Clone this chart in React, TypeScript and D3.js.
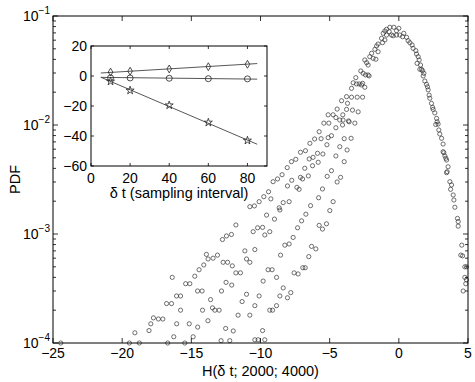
import React from "react";
import * as d3 from "d3";

// ---------- main panel data: [H(δt;2000;4000), PDF] ----------
const peakPoints: [number, number][] = [
  [-1.01,0.0728],[-0.89,0.0755],[-0.65,0.0788],[-0.36,0.0788],[0,0.0771],[-0.17,0.0733],[-0.70,0.0718],
  [-1.13,0.0694],[-0.89,0.0669],[-0.53,0.0669],[-0.41,0.0659],[-0.17,0.0669],[0.07,0.0669],[0.27,0.0646],
  [0.36,0.0694],[0.56,0.0638],[0.67,0.0593],[-1.25,0.0624],[-1.01,0.0603],[-1.18,0.0569],[-1.50,0.0553],
  [-1.61,0.0531],[-1.73,0.0495],[-1.50,0.0470],[-1.97,0.0455],[-2.10,0.0423],[-1.86,0.0409],[-1.66,0.0401],
  [-2.46,0.0395],[-2.33,0.0373],[-2.22,0.0355],[-2.75,0.0313],[-2.58,0.0298],[-2.41,0.0288],[-2.22,0.0288],
  [-3.11,0.0272],[-3.30,0.0244],[-3.06,0.0238],[-2.87,0.0238],[-2.62,0.0241],[-2.46,0.0222],[-3.42,0.0217],
  [-2.15,0.0282],[-2.70,0.0233]
];

const leftTailUpper: [number, number][] = [
  [-4.14,0.0167],[-3.78,0.0182],[-3.42,0.0180],[-3.01,0.0180],[-2.62,0.0180],[-3.71,0.0158],[-4.46,0.0140],
  [-3.78,0.0139],[-3.35,0.0137],[-2.94,0.0132],[-4.75,0.0124],[-5.11,0.0124],[-4.05,0.0124],[-4.55,0.0117],
  [-4.27,0.0111],[-4.03,0.0111],[-3.64,0.0109],[-3.59,0.0107],[-3.18,0.0104],[-5.42,0.0104],[-5.06,0.0104],
  [-4.55,0.00944],[-4.07,0.0100],
  [-5.76,0.00868],[-6.09,0.00744],[-6.43,0.00679],[-6.75,0.00581],[-7.11,0.00562],[-7.45,0.00484],
  [-7.76,0.00461],[-8.07,0.00406],[-8.44,0.0035],[-8.77,0.0032],[-9.09,0.00302],[-9.42,0.00244],
  [-9.76,0.0022],[-10.10,0.00198],[-10.44,0.00181],[-10.77,0.00178],
  [-4.87,0.00798],[-5.11,0.00765],[-5.62,0.00749],[-3.95,0.00749],[-3.45,0.00755],[-5.20,0.00659],
  [-4.27,0.00632],[-3.74,0.0059],[-5.88,0.0055],[-5.49,0.00542],[-6.48,0.00488],[-6.20,0.00505],
  [-5.83,0.00455],[-4.55,0.0052],[-3.95,0.00461],[-6.80,0.00401],[-6.24,0.00423],[-4.87,0.00381],
  [-5.18,0.00338],[-4.21,0.00331],[-7.11,0.00331],[-6.96,0.0032],[-6.54,0.00341],[-7.74,0.00311],
  [-4.46,0.003],[-8.05,0.00276],[-7.37,0.00268],[-7.21,0.00257],[-5.52,0.00259],[-9.25,0.0021],
  [-8.36,0.00194],[-7.93,0.00198],[-8.65,0.00174],[-8.60,0.00166],[-5.80,0.00215],[-6.38,0.00182],
  [-4.75,0.00198],[-9.56,0.00149],[-8.99,0.00137],[-6.72,0.00152],[-4.99,0.00164],[-7.03,0.00132],
  [-5.76,0.0012],[-5.52,0.00111],[-5.23,0.00124],[-10.53,0.00105],[-10.21,0.00114],[-9.85,0.00115],
  [-9.33,0.00105],[-7.32,0.00114],[-11.78,0.00121]
];

const leftTailLower: [number, number][] = [
  [-9.69,9.8e-4],[-7.64,9.3e-4],[-8.24,7.9e-4],[-7.93,8.1e-4],[-6.31,7.7e-4],[-6.00,7.3e-4],[-10.41,7.2e-4],
  [-8.55,6.4e-4],[-6.51,6.2e-4],[-10.77,5.5e-4],[-9.45,4.7e-4],[-9.16,4.7e-4],[-7.57,4.4e-4],[-7.28,4.3e-4],
  [-6.94,4.9e-4],[-6.77,4.9e-4],[-9.81,3.7e-4],[-8.84,4.0e-4],[-8.36,3.2e-4],[-7.81,2.9e-4],[-8.05,2.6e-4],
  [-8.60,2.7e-4],[-10.10,2.7e-4],[-10.41,2.2e-4],[-8.84,2.2e-4],[-9.33,2.0e-4],[-9.13,2.0e-4],[-10.77,1.8e-4],
  [-9.85,1.3e-4],[-10.41,1.07e-4],[-10.17,1.07e-4],[-9.69,1.07e-4],
  [-12.46,9.6e-4],[-12.10,9.9e-4],[-12.75,8.9e-4],[-13.91,6.5e-4],[-13.79,5.9e-4],[-13.43,6.0e-4],
  [-13.11,6.4e-4],[-11.13,7.0e-4],[-11.01,5.9e-4],[-14.10,5.2e-4],[-14.44,4.7e-4],[-12.70,5.5e-4],
  [-12.38,5.5e-4],[-12.04,5.1e-4],[-11.78,4.4e-4],[-11.45,4.4e-4],[-14.75,4.1e-4],[-16.38,4.0e-4],
  [-15.41,3.5e-4],[-15.11,3.5e-4],[-12.49,3.6e-4],[-12.08,3.4e-4],[-14.55,3.0e-4],[-14.22,3.0e-4],
  [-16.07,2.7e-4],[-15.78,2.7e-4],[-12.82,3.0e-4],[-11.01,2.8e-4],[-16.79,2.3e-4],[-16.43,2.3e-4],
  [-13.61,2.5e-4],[-11.33,2.4e-4],[-15.78,2.0e-4],[-14.19,2.0e-4],[-13.47,2.1e-4],[-13.30,2.0e-4],
  [-12.99,2.0e-4],[-11.62,1.8e-4],[-17.74,1.7e-4],[-17.38,1.66e-4],[-17.06,1.66e-4],[-13.80,1.6e-4],
  [-17.93,1.5e-4],[-18.06,1.3e-4],[-16.06,1.5e-4],[-15.15,1.5e-4],[-14.54,1.4e-4],[-12.52,1.36e-4],
  [-11.97,1.29e-4],[-19.08,1.24e-4],[-16.27,1.14e-4],[-14.87,1.14e-4],
  [-24.44,1e-4],[-19.48,1e-4],[-18.76,1e-4],[-16.71,1e-4],[-15.47,1e-4],[-12.85,1.05e-4],[-12.22,1.05e-4]
];

const rightTail: [number, number][] = [
  [0.80,0.0569],[0.96,0.0542],[1.03,0.0505],[1.23,0.0481],[1.28,0.0448],[1.40,0.0423],[1.47,0.0395],
  [1.32,0.0368],[1.57,0.0355],[1.52,0.0324],[1.64,0.0324],[1.71,0.0315],[1.81,0.0298],[1.76,0.0282],
  [1.88,0.0253],[2.00,0.0236],[2.07,0.0224],[2.12,0.0210],[2.19,0.0188],[2.24,0.0176],[2.36,0.0158],
  [2.44,0.0145],[2.48,0.0139],[2.60,0.0129],[2.73,0.0115],[2.77,0.0107],[2.84,0.0102],[2.67,0.0101],
  [2.89,0.0090],[2.96,0.00827],[3.09,0.00755],[3.20,0.00669],[3.20,0.00569],[3.25,0.00557],[3.33,0.0052],
  [3.40,0.00495],[3.45,0.00477],[3.56,0.00414],[3.49,0.00373],[3.45,0.00365],[3.69,0.00302],[3.81,0.00282],
  [3.74,0.00257],[3.93,0.00228],[3.98,0.00205],[4.05,0.00176],[4.24,0.00139],[4.29,0.0013],[4.29,0.00118],
  [4.55,7.9e-4],[4.48,6.4e-4],[4.61,6.3e-4],[4.77,5.0e-4],[4.89,5.0e-4],[4.77,4.0e-4],[4.89,3.8e-4],
  [4.84,3.5e-4],[4.65,3.0e-4]
];

const xTicksMain = [-25, -20, -15, -10, -5, 0, 5];
const yDecades = [-4, -3, -2, -1];

// ---------- inset data: slope vs sampling interval ----------
const insetDt = [10, 20, 40, 60, 80];
const diamondVals = [2.6, 3.2, 4.7, 6.2, 7.8];
const circleVals = [-1.2, -1.3, -1.5, -1.8, -1.9];
const starVals = [-3.6, -9.6, -19.5, -31.0, -43.0];
const fitRange = [5, 85];
const diamondFit = [2.0, 8.3];
const circleFit = [-0.9, -2.1];
const starFit = [-0.8, -45.5];
const insetXTicks = [0, 20, 40, 60, 80];
const insetYTicks = [-60, -40, -20, 0, 20];

const FONT = "'Liberation Sans', Arial, Helvetica, sans-serif";
const minus = (v: number) => (v < 0 ? "\u2212" + Math.abs(v) : String(v));

export default function App() {
  const W = 475, H = 382;
  const m = { l: 53, r: 468, t: 16, b: 343 };
  const x = d3.scaleLinear().domain([-25, 5]).range([m.l, m.r]);
  const y = d3.scaleLog().domain([1e-4, 1e-1]).range([m.b, m.t]);

  const ins = { l: 91, r: 267, t: 46, b: 166 };
  const ix = d3.scaleLinear().domain([0, 90]).range([ins.l, ins.r]);
  const iy = d3.scaleLinear().domain([-60, 20]).range([ins.b, ins.t]);

  const allPts = [...peakPoints, ...leftTailUpper, ...leftTailLower, ...rightTail];

  const minorTicks: number[] = [];
  for (const d of [-4, -3, -2]) for (let k = 2; k <= 9; k++) minorTicks.push(k * Math.pow(10, d));

  const diamond = d3.symbol().type(d3.symbolDiamond).size(18)()!;
  const star = d3.symbol().type(d3.symbolStar).size(20)()!;
  const line = d3.line<[number, number]>().x(d => ix(d[0])).y(d => iy(d[1]));

  const fits = [diamondFit, circleFit, starFit];
  const stroke = "#000";

  return (
    <svg width={W} height={H} style={{ position: "absolute", left: 0, top: 0, background: "#fff" }} fontFamily={FONT}>
      <rect x={0} y={0} width={W} height={H} fill="#fff" />
      {/* main points */}
      <g fill="none" stroke="#333" strokeWidth={0.7}>
        {allPts.map((p, i) => (
          <circle key={i} cx={x(p[0])} cy={y(p[1])} r={2.1} />
        ))}
      </g>
      {/* main box */}
      <rect x={m.l} y={m.t} width={m.r - m.l} height={m.b - m.t} fill="none" stroke={stroke} strokeWidth={1} />
      {/* x ticks */}
      <g stroke={stroke} strokeWidth={0.8}>
        {xTicksMain.map(t => (
          <g key={t}>
            <line x1={x(t)} x2={x(t)} y1={m.b} y2={m.b - 5} />
            <line x1={x(t)} x2={x(t)} y1={m.t} y2={m.t + 5} />
          </g>
        ))}
        {yDecades.map(dd => (
          <g key={dd}>
            <line x1={m.l} x2={m.l + 5} y1={y(Math.pow(10, dd))} y2={y(Math.pow(10, dd))} />
            <line x1={m.r} x2={m.r - 5} y1={y(Math.pow(10, dd))} y2={y(Math.pow(10, dd))} />
          </g>
        ))}
        {minorTicks.map((t, i) => (
          <g key={i}>
            <line x1={m.l} x2={m.l + 3} y1={y(t)} y2={y(t)} />
            <line x1={m.r} x2={m.r - 3} y1={y(t)} y2={y(t)} />
          </g>
        ))}
      </g>
      <g fontSize={14} fill="#000" textAnchor="middle">
        {xTicksMain.map(t => (
          <text key={t} x={x(t)} y={358}>{minus(t)}</text>
        ))}
      </g>
      <g fill="#000" textAnchor="end">
        {yDecades.map(dd => (
          <text key={dd} x={50} y={y(Math.pow(10, dd)) + 5} fontSize={14}>
            10<tspan fontSize={10} dy={-7}>{minus(dd)}</tspan>
          </text>
        ))}
      </g>
      <text x={(m.l + m.r) / 2} y={376} fontSize={14.5} textAnchor="middle" fill="#000">
        H(δ t; 2000; 4000)
      </text>
      <text transform={`translate(20,${(m.t + m.b) / 2}) rotate(-90)`} fontSize={14.5} textAnchor="middle" fill="#000">
        PDF
      </text>

      {/* inset */}
      <rect x={ins.l} y={ins.t} width={ins.r - ins.l} height={ins.b - ins.t} fill="#fff" stroke={stroke} strokeWidth={1} />
      <g stroke={stroke} strokeWidth={0.8}>
        {insetXTicks.map(t => (
          <g key={t}>
            <line x1={ix(t)} x2={ix(t)} y1={ins.b} y2={ins.b - 3} />
            <line x1={ix(t)} x2={ix(t)} y1={ins.t} y2={ins.t + 3} />
          </g>
        ))}
        {insetYTicks.map(t => (
          <g key={t}>
            <line x1={ins.l} x2={ins.l + 3} y1={iy(t)} y2={iy(t)} />
            <line x1={ins.r} x2={ins.r - 3} y1={iy(t)} y2={iy(t)} />
          </g>
        ))}
      </g>
      <g fill="none" stroke="#444" strokeWidth={0.9}>
        {fits.map((f, i) => (
          <path key={i} d={line([[fitRange[0], f[0]], [fitRange[1], f[1]]])!} />
        ))}
      </g>
      <g fill="none" stroke="#222" strokeWidth={0.8}>
        {insetDt.map((t, i) => (
          <path key={"d" + i} d={diamond} transform={`translate(${ix(t)},${iy(diamondVals[i])})`} />
        ))}
        {insetDt.map((t, i) => (
          <circle key={"c" + i} cx={ix(t)} cy={iy(circleVals[i])} r={3} />
        ))}
        {insetDt.map((t, i) => (
          <path key={"s" + i} d={star} transform={`translate(${ix(t)},${iy(starVals[i])})`} />
        ))}
      </g>
      <g fontSize={14} fill="#000" textAnchor="middle">
        {insetXTicks.map(t => (
          <text key={t} x={ix(t)} y={183}>{minus(t)}</text>
        ))}
      </g>
      <g fontSize={14} fill="#000" textAnchor="end">
        {insetYTicks.map(t => (
          <text key={t} x={87} y={iy(t) + 5}>{minus(t)}</text>
        ))}
      </g>
      <text x={(ins.l + ins.r) / 2} y={198} fontSize={14.5} textAnchor="middle" fill="#000">
        δ t (sampling interval)
      </text>
    </svg>
  );
}
